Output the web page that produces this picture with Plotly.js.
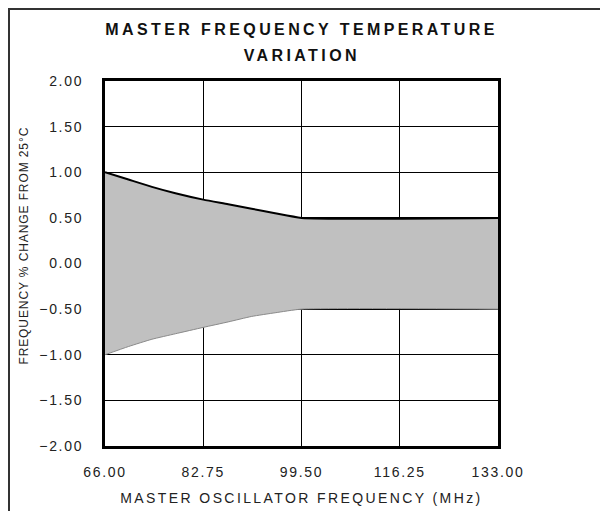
<!DOCTYPE html>
<html>
<head>
<meta charset="utf-8">
<script src="https://cdn.plot.ly/plotly-3.0.1.min.js"></script>
<style>
  html, body { margin: 0; padding: 0; background: #fff; }
  #chart { width: 600px; height: 511px; }
  .gtitle { letter-spacing: 3.4px; }
  .annotation[data-index="0"] text { letter-spacing: 3.4px; }
  .annotation[data-index="1"] text { letter-spacing: 0.9px; }
  .xtick text, .ytick text { letter-spacing: 1.7px; }
  .xtitle { letter-spacing: 2.4px; }
</style>
</head>
<body>
<div id="chart"></div>
<script>
// Data
const frequencyMHz = [66, 70, 74, 78, 82.75, 87, 91, 95, 99.5, 133];
const upperPct     = [1.00, 0.92, 0.84, 0.77, 0.70, 0.65, 0.60, 0.55, 0.50, 0.50];
const lowerPct     = [-1.00, -0.91, -0.83, -0.77, -0.70, -0.64, -0.58, -0.54, -0.50, -0.50];
const xTickVals    = [66, 82.75, 99.5, 116.25, 133];
const yTickVals    = [-2, -1.5, -1, -0.5, 0, 0.5, 1, 1.5, 2];

const FONT = 'Liberation Sans, Arial, sans-serif';

const traces = [
  {
    x: frequencyMHz, y: lowerPct, type: 'scatter', mode: 'lines',
    line: { color: '#8a8a8a', width: 1, shape: 'spline', smoothing: 0.5 },
    hoverinfo: 'skip', showlegend: false
  },
  {
    x: frequencyMHz, y: upperPct, type: 'scatter', mode: 'lines',
    fill: 'tonexty', fillcolor: '#c0c0c0',
    line: { color: '#000', width: 2, shape: 'spline', smoothing: 0.5 },
    hoverinfo: 'skip', showlegend: false
  }
];

const layout = {
  width: 600, height: 511,
  margin: { l: 105, r: 102, t: 81, b: 65 },
  paper_bgcolor: '#fff', plot_bgcolor: '#fff',
  font: { family: FONT, color: '#222' },
  title: {
    text: 'MASTER FREQUENCY TEMPERATURE',
    font: { family: FONT, size: 16, weight: 'bold', color: '#111' },
    xref: 'paper', x: 0.5, xanchor: 'center',
    yref: 'container', y: 1 - 29 / 511, yanchor: 'middle'
  },
  annotations: [
    {
      text: 'VARIATION', showarrow: false,
      xref: 'paper', x: 0.5, xanchor: 'center',
      yref: 'paper', y: (446 - 56) / 365, yanchor: 'middle',
      font: { family: FONT, size: 16, weight: 'bold', color: '#111' }
    },
    {
      text: 'FREQUENCY % CHANGE FROM 25°C', showarrow: false, textangle: -90,
      xref: 'paper', x: (24 - 105) / 393, xanchor: 'center',
      yref: 'paper', y: (446 - 246) / 365, yanchor: 'middle',
      font: { family: FONT, size: 12, color: '#222' }
    }
  ],
  xaxis: {
    range: [66, 133], tickvals: xTickVals, tickformat: '.2f',
    showgrid: true, gridcolor: '#000', gridwidth: 1, zeroline: false,
    showline: true, mirror: true, linecolor: '#000', linewidth: 3,
    ticks: '', ticklabelstandoff: 11,
    tickfont: { family: FONT, size: 14, color: '#222' },
    title: { text: 'MASTER OSCILLATOR FREQUENCY (MHz)', standoff: 15,
             font: { family: FONT, size: 14, color: '#222' } }
  },
  yaxis: {
    range: [-2, 2], tickvals: yTickVals, tickformat: '.2f',
    showgrid: true, gridcolor: '#000', gridwidth: 1, zeroline: false,
    showline: true, mirror: true, linecolor: '#000', linewidth: 3,
    ticks: '', ticklabelstandoff: 16,
    tickfont: { family: FONT, size: 14, color: '#222' }
  },
  shapes: [{
    type: 'rect', xref: 'paper', yref: 'paper',
    x0: (9 - 105) / 393, x1: 1.6, y0: -0.5, y1: (446 - 9) / 365,
    line: { color: '#333', width: 2 }, fillcolor: 'rgba(0,0,0,0)', layer: 'above'
  }]
};

Plotly.newPlot('chart', traces, layout, { staticPlot: true, displayModeBar: false });
</script>
</body>
</html>
